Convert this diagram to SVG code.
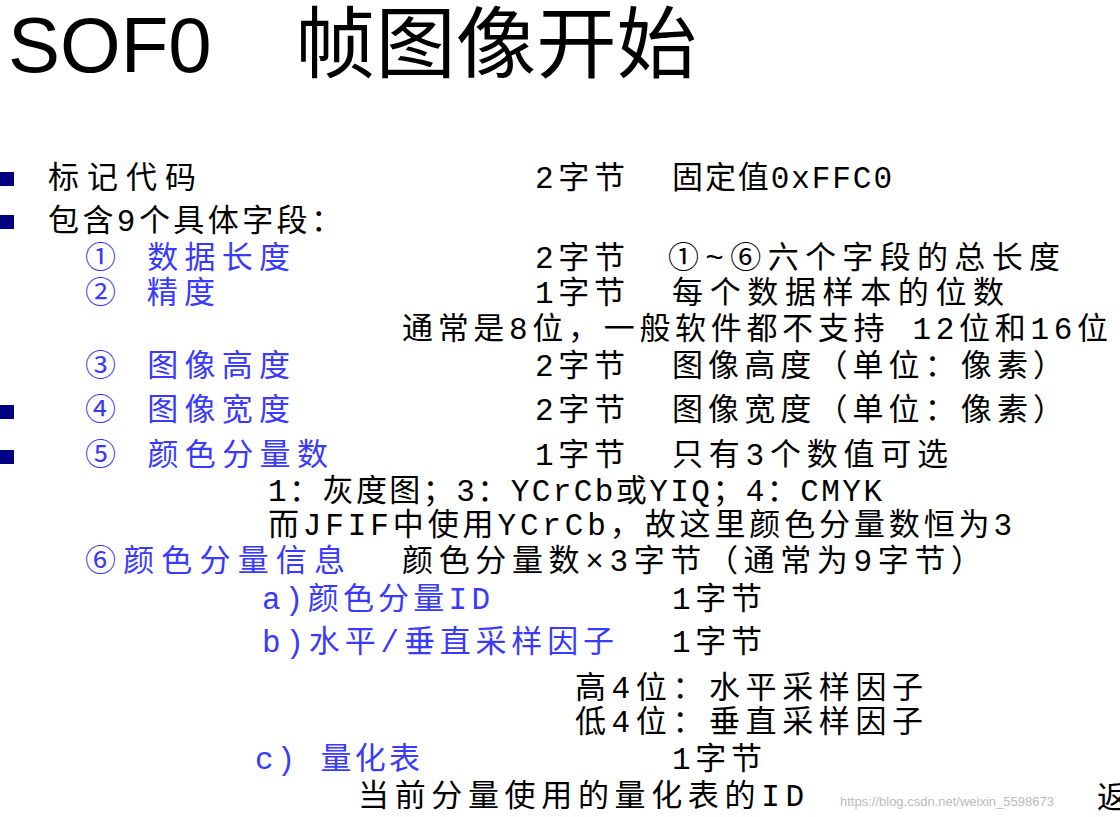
<svg xmlns="http://www.w3.org/2000/svg" width="1120" height="817" viewBox="0 0 1120 817">
<style>
text{font-family:"Liberation Mono","Noto Sans CJK SC",monospace;font-size:31px;fill:#000}
.b{fill:#3a3aff}
.t{font-family:"Liberation Sans","Noto Sans CJK SC",sans-serif;font-size:78px}
.w{font-family:"Liberation Sans",sans-serif;font-size:13px;fill:#bbb}
</style>
<rect width="1120" height="817" fill="#fff"/>
<text class="t" x="8" y="72">SOF0</text>
<text class="t" x="295" y="72" textLength="402" lengthAdjust="spacingAndGlyphs">帧图像开始</text>
<g fill="#000080">
<rect x="0" y="172" width="14" height="14"/><rect x="0" y="215" width="14" height="14"/>
<rect x="0" y="405" width="14" height="14"/><rect x="0" y="450" width="14" height="14"/>
</g>
<text x="48" y="188" textLength="148">标记代码</text><text x="535" y="188" textLength="90">2字节</text><text x="672" y="188" textLength="220">固定值0xFFC0</text>
<text x="48" y="231" textLength="294">包含9个具体字段：</text>
<text class="b" x="85" y="268" textLength="205">① 数据长度</text><text x="535" y="268" textLength="90">2字节</text><text x="668" y="268" textLength="392">①~⑥六个字段的总长度</text>
<text class="b" x="85" y="303" textLength="130">② 精度</text><text x="535" y="303" textLength="90">1字节</text><text x="672" y="303" textLength="332">每个数据样本的位数</text>
<text x="402" y="339" textLength="706">通常是8位，一般软件都不支持 12位和16位</text>
<text class="b" x="85" y="376" textLength="205">③ 图像高度</text><text x="535" y="376" textLength="90">2字节</text><text x="672" y="376" textLength="392">图像高度（单位：像素）</text>
<text class="b" x="85" y="420" textLength="205">④ 图像宽度</text><text x="535" y="420" textLength="90">2字节</text><text x="672" y="420" textLength="392">图像宽度（单位：像素）</text>
<text class="b" x="85" y="465" textLength="243">⑤ 颜色分量数</text><text x="535" y="465" textLength="90">1字节</text><text x="672" y="465" textLength="276">只有3个数值可选</text>
<text x="268" y="501" textLength="614">1：灰度图；3：YCrCb或YIQ；4：CMYK</text>
<text x="268" y="535" textLength="744">而JFIF中使用YCrCb，故这里颜色分量数恒为3</text>
<text class="b" x="85" y="571" textLength="260">⑥颜色分量信息</text><text x="402" y="571" textLength="580">颜色分量数×3字节（通常为9字节）</text>
<text class="b" x="262" y="609" textLength="228">a)颜色分量ID</text><text x="672" y="609" textLength="90">1字节</text>
<text class="b" x="262" y="652" textLength="352">b)水平/垂直采样因子</text><text x="672" y="652" textLength="90">1字节</text>
<text x="575" y="698" textLength="348">高4位：水平采样因子</text>
<text x="575" y="732" textLength="348">低4位：垂直采样因子</text>
<text class="b" x="255" y="769" textLength="165">c) 量化表</text><text x="672" y="769" textLength="90">1字节</text>
<text x="358" y="806" textLength="446">当前分量使用的量化表的ID</text>
<text class="w" x="840" y="806">https://blog.csdn.net/weixin_5598673</text>
<text x="1097" y="808">返</text>
</svg>
